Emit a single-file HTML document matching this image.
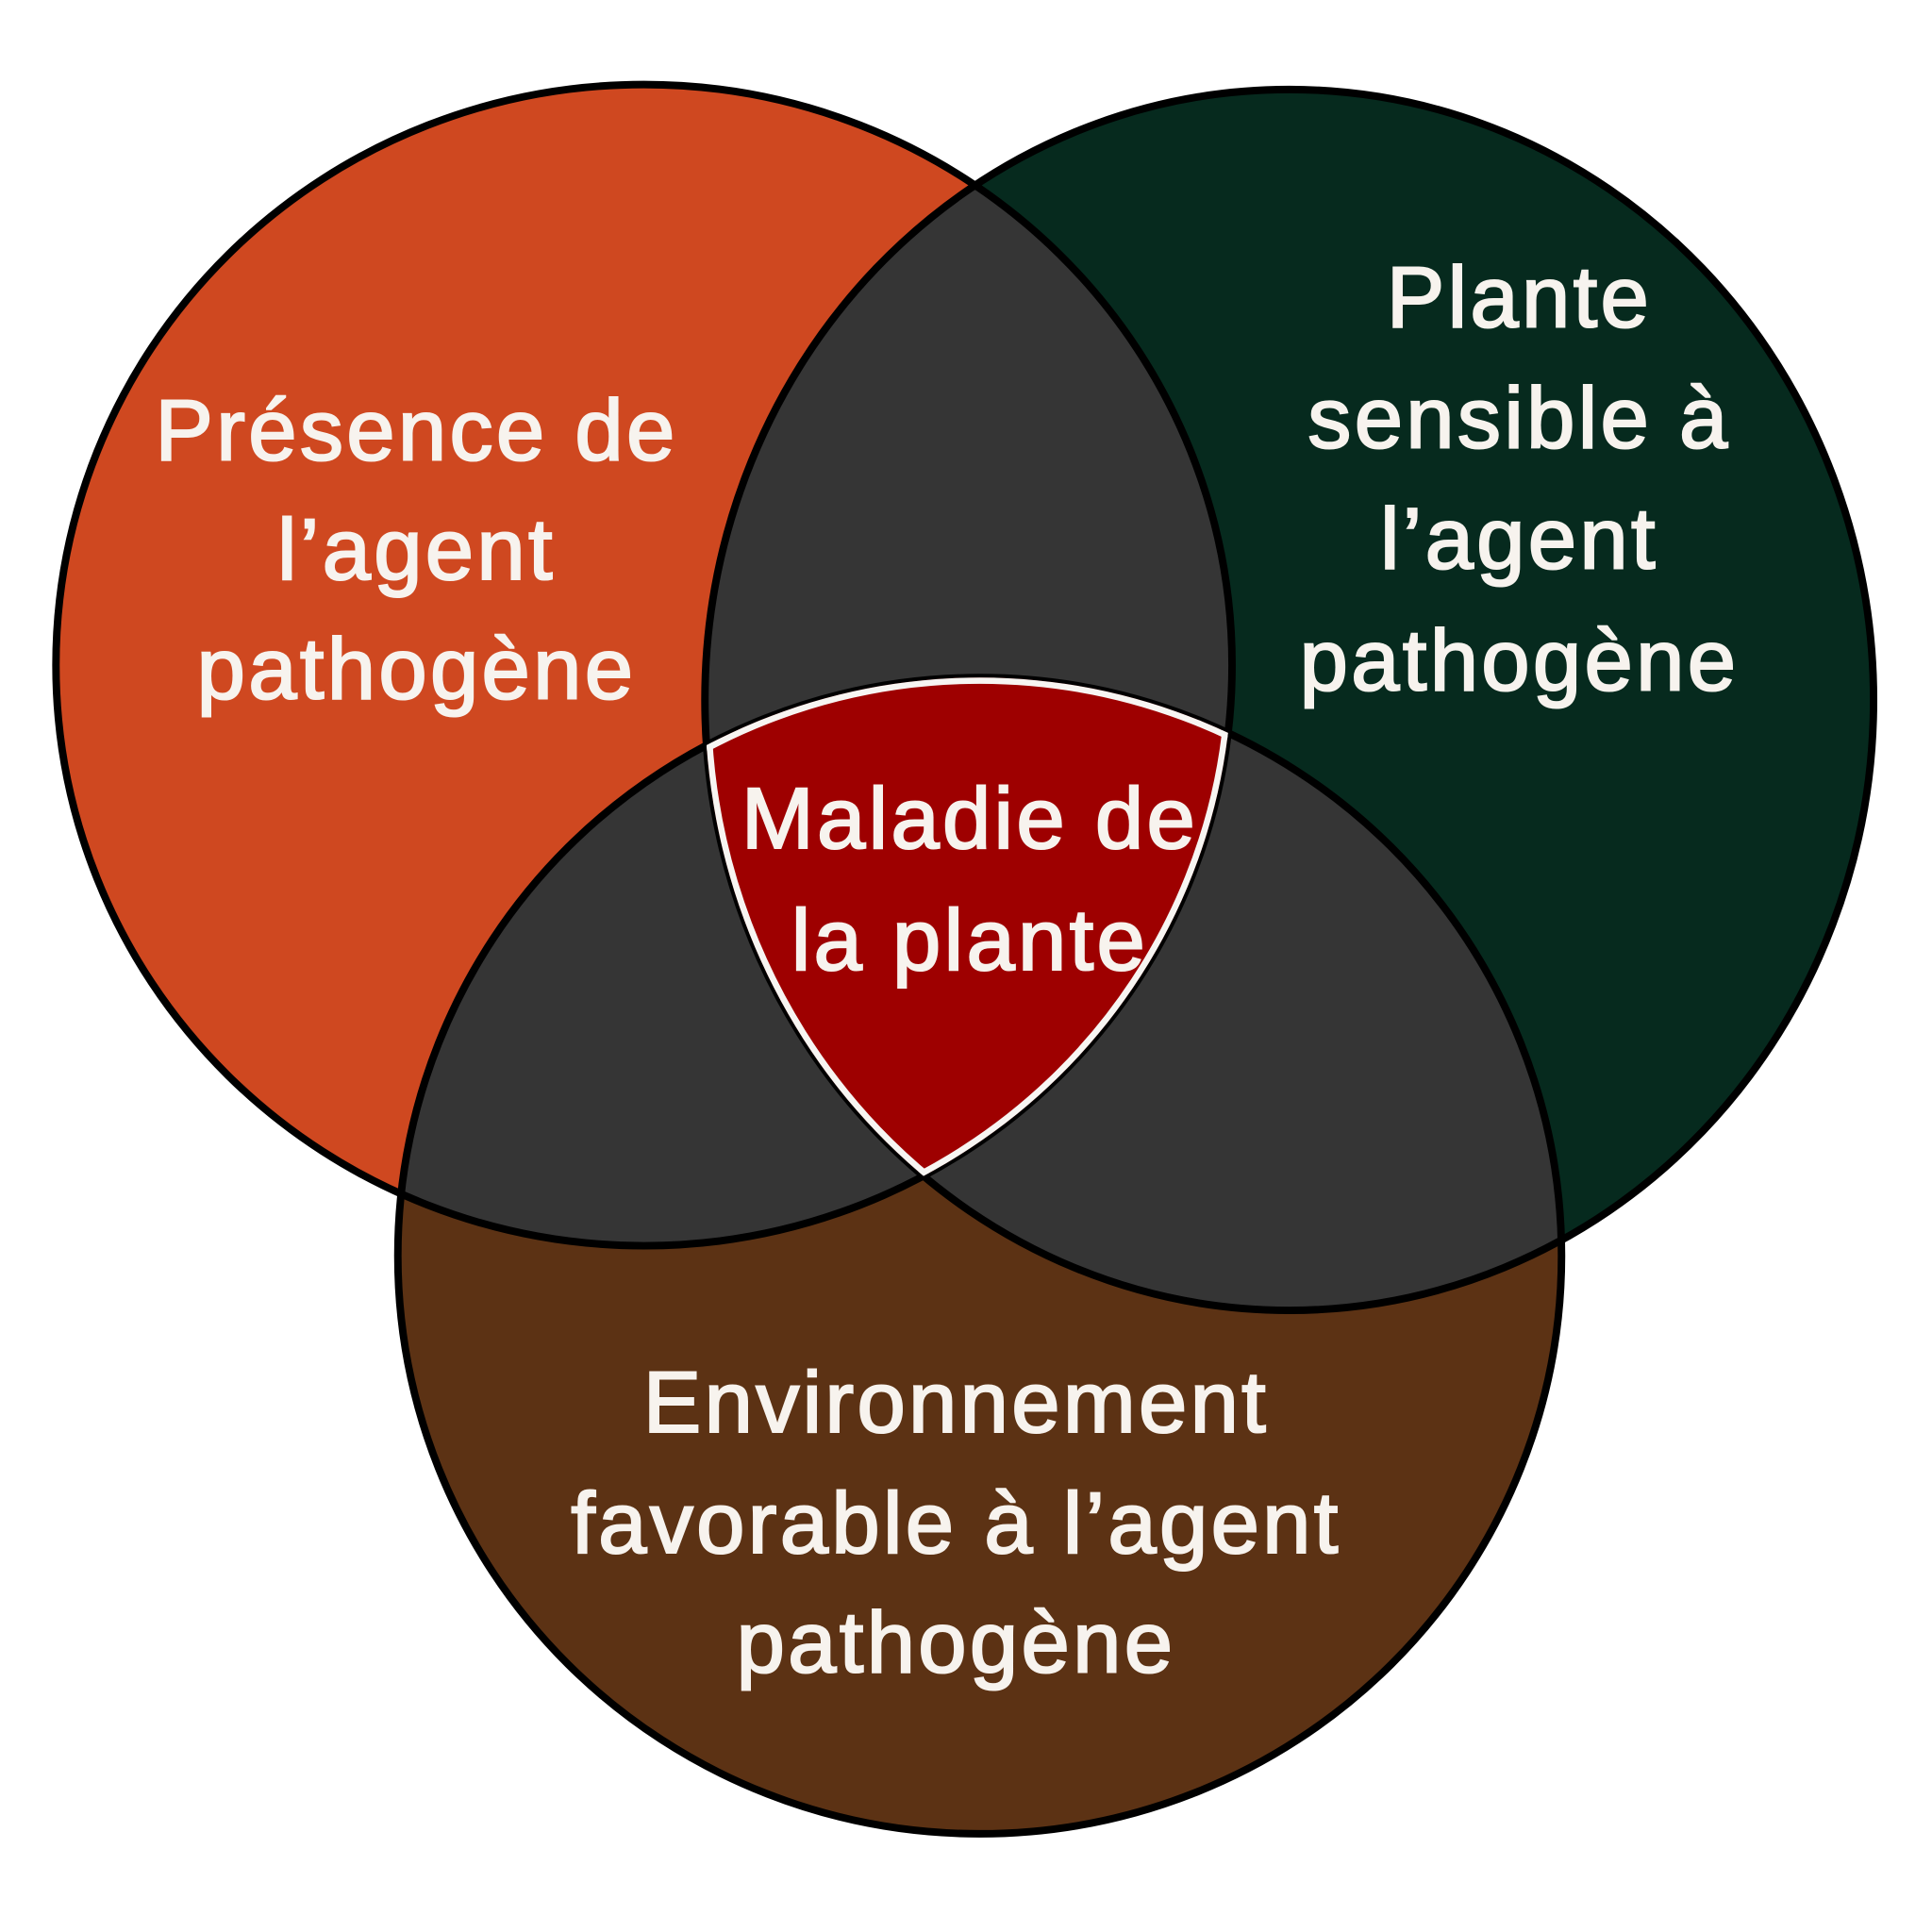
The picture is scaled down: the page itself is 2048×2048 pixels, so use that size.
<!DOCTYPE html>
<html><head><meta charset="utf-8"><style>html,body{margin:0;padding:0;background:#fff}svg{display:block}</style></head>
<body>
<svg width="2048" height="2048" viewBox="0 0 1554 1554" xmlns="http://www.w3.org/2000/svg">
<defs>
<clipPath id="cA"><ellipse cx="518" cy="535" rx="473" ry="467"/></clipPath>
<clipPath id="cB"><ellipse cx="1037" cy="563" rx="470" ry="491"/></clipPath>
<clipPath id="cC"><ellipse cx="788" cy="1010" rx="468" ry="465"/></clipPath>
</defs>
<ellipse cx="518" cy="535" rx="473" ry="467" fill="#cf4820"/>
<ellipse cx="1037" cy="563" rx="470" ry="491" fill="#062a1e"/>
<ellipse cx="788" cy="1010" rx="468" ry="465" fill="#5c3214"/>
<g clip-path="url(#cA)"><ellipse cx="1037" cy="563" rx="470" ry="491" fill="#353535"/><ellipse cx="788" cy="1010" rx="468" ry="465" fill="#353535"/></g>
<g clip-path="url(#cB)"><ellipse cx="788" cy="1010" rx="468" ry="465" fill="#353535"/></g>
<g fill="none" stroke="#000" stroke-width="6">
<ellipse cx="518" cy="535" rx="473" ry="467"/>
<ellipse cx="1037" cy="563" rx="470" ry="491"/>
<ellipse cx="788" cy="1010" rx="468" ry="465"/>
</g>
<g clip-path="url(#cA)"><g clip-path="url(#cB)"><g clip-path="url(#cC)">
<rect x="0" y="0" width="1554" height="1554" fill="#9e0000"/>
<g fill="none" stroke="#f7f5f2" stroke-width="10">
<ellipse cx="518" cy="535" rx="473" ry="467"/>
<ellipse cx="1037" cy="563" rx="470" ry="491"/>
<ellipse cx="788" cy="1010" rx="468" ry="465"/>
</g>
</g></g></g>
<g font-family="Liberation Sans, sans-serif" font-size="70" fill="#f7f3ee" stroke="#f7f3ee" stroke-width="1.6" letter-spacing="2.5" text-anchor="middle">
<text x="335" y="370">Présence de</text>
<text x="335" y="466">l’agent</text>
<text x="335" y="562">pathogène</text>
<text x="1222" y="263">Plante</text>
<text x="1222" y="360">sensible à</text>
<text x="1222" y="457">l’agent</text>
<text x="1222" y="555">pathogène</text>
<text x="780" y="682">Maladie de</text>
<text x="780" y="780">la plante</text>
<text x="769" y="1152">Environnement</text>
<text x="769" y="1249">favorable à l’agent</text>
<text x="769" y="1345">pathogène</text>
</g>
</svg>
</body></html>
